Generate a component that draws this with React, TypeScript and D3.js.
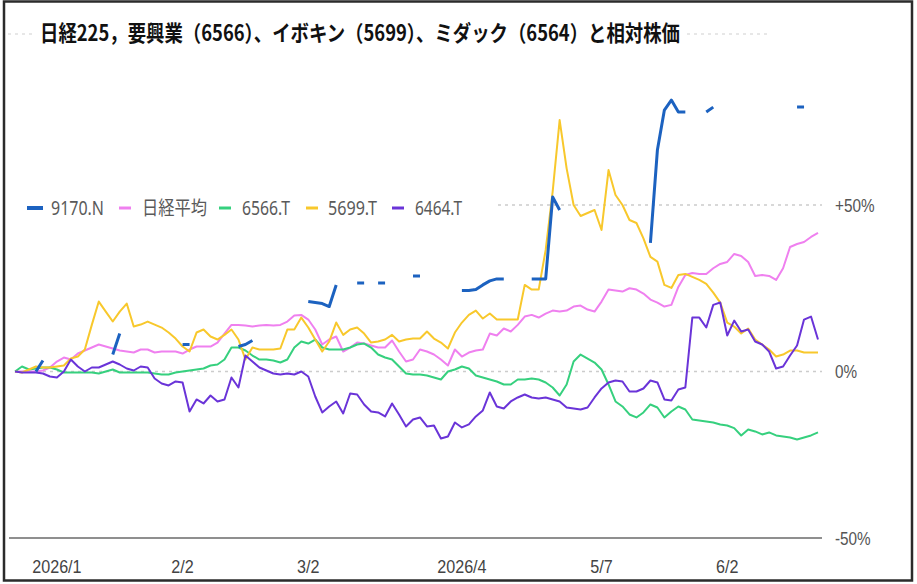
import React from "react";
import * as d3 from "d3";

const n = null;

// daily relative change (%) from the first day
const nikkei = [
  0, 0, 0, 0, 0.3, 1.2, 3, 4.2, 3.6, 5.4,
  6.3, 7.2, 8.1, 7.5, 6.9, 6.3, 6, 5.7, 6.6, 6.6,
  5.7, 6, 6, 6, 5.4, 6.6, 7.5, 7.5, 7.5, 8.7,
  11.4, 14, 14, 13.8, 13.5, 13.8, 14, 13.8, 14, 15,
  16.8, 17, 15.6, 12.6, 8.1, 9.6, 10.5, 6, 7.2, 8.7,
  8.4, 7.8, 7.2, 7.2, 9.3, 6, 3, 3.6, 6.6, 6,
  5.1, 3.6, 1.8, 6.6, 4.5, 5.7, 6.3, 6.6, 11.4, 10.8,
  12.9, 12, 14, 16.5, 17, 16.2, 17.4, 18.3, 18, 18.3,
  19.5, 19.8, 18.6, 18, 21, 24.6, 24.3, 24, 25, 24.6,
  23.4, 21.6, 20.7, 19.5, 20, 25.4, 29, 29.6, 29.3, 29.3,
  31, 32.3, 32.9, 35.3, 34.7, 32.9, 28.7, 29, 28.7, 27.5,
  31, 37.4, 38.3, 38.9, 40.4, 41.6,
];

const s6566 = [
  0, 1.5, 0.6, 0.9, 1.2, 1.2, 0.6, -0.3, -0.3, -0.3,
  -0.3, -0.3, -0.6, 0, 0.6, -0.3, -0.3, -0.3, -0.3, -0.3,
  -0.6, -0.9, -0.9, -0.3, 0, 0.3, 0.6, 0.9, 1.8, 2.1,
  3.6, 7.2, 7.2, 6.3, 4.8, 3.6, 3.6, 3.3, 2.7, 3.6,
  7.2, 9, 8.4, 9.6, 7.2, 6.6, 6.6, 6.6, 7.2, 8.1,
  8.4, 7.2, 5.1, 4.2, 3.6, 1.5, -0.6, -0.9, -0.9, -1.2,
  -1.8, -2.4, 0, 0.6, 1.5, 0.9, -1.2, -1.8, -2.4, -3,
  -3.9, -3.9, -2.4, -2.4, -2.1, -2.4, -3.3, -4.8, -7.2, -3.9,
  3, 5.1, 3.9, 2.7, 0.6, -3.9, -9, -10.5, -12.9, -13.8,
  -12.3, -9.9, -10.8, -13.8, -12, -10.5, -11.4, -14.4, -14.7, -15,
  -15.3, -15.9, -16.2, -17, -19.2, -17.4, -18, -18.9, -18.3, -19.2,
  -19.5, -19.8, -20.4, -19.8, -19.2, -18.3,
];

const s5699 = [
  0, -0.3, 0.6, 1.5, 1.2, 1.2, 1.5, 1.8, 3.9, 4.5,
  6.6, 14, 21, 18, 15, 18, 20.4, 13.5, 14.1, 15,
  14.1, 13.2, 11.7, 9.9, 7.5, 6, 11.7, 12.6, 10.5, 9.6,
  11, 12.6, 9.6, 3.6, 7.2, 6.6, 6.6, 6.6, 6.9, 12.6,
  12.6, 16.2, 13.2, 9.6, 6, 9, 14.7, 11, 12.6, 13.2,
  11.4, 8.7, 9, 9.6, 11, 9, 9.6, 9.9, 9.9, 12,
  9.9, 8.7, 6.9, 11.7, 14.7, 17, 18.3, 15.9, 17.4, 15.6,
  15.6, 15.6, 15.6, 26, 24.6, 24.6, 36.5, 54, 75.5, 61,
  50, 46.7, 47.6, 48.5, 42.5, 60.5, 53, 50, 45.5, 44.6,
  40, 34.4, 33, 26, 25.1, 29, 29.3, 28.4, 27.5, 26.3,
  23.7, 20.7, 14.7, 13.5, 11.4, 12.9, 9.6, 8.1, 6.6, 4.5,
  5.1, 6.3, 6.3, 5.7, 5.7, 5.7,
];

const s6464 = [
  0, -0.3, -0.3, -0.3, -0.6, -1.5, -1.8, 0, 3.6, 1.5,
  0, 1.2, 1.2, 2.1, 3, 2.1, 0.9, 0.3, 1.5, 1.2,
  -2.1, -3.6, -4.2, -3, -3.3, -12, -8.4, -9.6, -7.2, -9,
  -8.4, -1.8, -4.8, 4.8, 3, 1.2, 0.3, -0.6, -0.9, -0.6,
  -0.9, 0, -1.5, -7.5, -12.3, -10.5, -9, -12.6, -6.6, -6.9,
  -9.9, -12, -12.3, -13.5, -9.6, -12.9, -16.5, -14.4, -13.8, -16.5,
  -16.2, -20.1, -19.5, -15.3, -16.8, -15.9, -13.5, -11.7, -6.3, -10.5,
  -11.1, -9, -7.8, -6.9, -7.8, -8.1, -7.8, -8.4, -9, -10.8,
  -11.1, -11.4, -10.8, -7.8, -5.1, -3.3, -2.7, -3, -6, -6,
  -5.1, -2.7, -3.3, -8.4, -8.7, -5.4, -4.8, 16.2, 16.2, 13.2,
  20, 20.7, 10.8, 15.3, 12, 12.6, 9, 8.1, 6, 0.9,
  1.5, 4.8, 7.8, 15.6, 16.5, 9.6,
];

// 9170.N only has scattered prices
const s9170 = [
  n, n, n, 0, 3.3, n, n, n, n, n,
  n, n, n, n, 5.1, 11.4, n, n, n, n,
  n, n, n, n, 8.1, 8.1, n, n, n, n,
  n, n, 7.5, 8.1, 9.3, n, n, n, n, n,
  n, n, 21, 20.7, 20.4, 19.5, 26, n, n, 26.6,
  26.6, n, 26.6, 26.6, n, n, n, 28.7, 28.7, n,
  n, n, n, n, 24.3, 24.3, 24.6, 26, 27.2, 27.8,
  27.8, n, n, n, 27.8, 27.8, 27.8, 52.4, 48.5, n,
  n, n, n, n, n, n, n, n, n, n,
  n, 38.6, 66.5, 78.5, 81.5, 77.9, 77.9, n, n, 77.9,
  79.4, n, n, n, n, n, n, n, n, n,
  n, n, 79.4, 79.4, n, n,
];

const seriesNames = ["9170.N", "日経平均", "6566.T", "5699.T", "6464.T"];
const seriesColors = ["#1c62c0", "#ef80ef", "#36d07e", "#f8c82c", "#6a34d8"];
const seriesData = [s9170, nikkei, s6566, s5699, s6464];

const tickLabels = ["2026/1", "2/2", "3/2", "2026/4", "5/7", "6/2"];
const tickIndex = [6, 24, 42, 64, 84, 102];

const yTicks = [50, 0, -50];
const yTickLabels = ["+50%", "0%", "-50%"];

const W = 917;
const H = 584;

// legend layout (dash start, text start, text width)
const legendDash = [27, 119, 219, 306, 392];
const legendText = [51, 142, 242, 328, 415];
const legendTextW = [53, 65, 48, 49, 47];

export default function App() {
  const count = nikkei.length;
  const x = d3.scaleLinear().domain([0, count - 1]).range([15, 818]);
  const y = d3.scaleLinear().domain([-50, 50]).range([538, 205]);

  const line = d3
    .line<number | null>()
    .defined((d) => d != null)
    .x((d, i) => x(i))
    .y((d) => y(d as number));

  // draw order: blue last so it sits on top
  const order = [1, 2, 3, 4, 0];

  return (
    <svg
      width={W}
      height={H}
      style={{ position: "absolute", left: 0, top: 0, background: "#fff" }}
    >
      <rect x={0} y={0} width={W} height={H} fill="#fff" />
      <rect
        x={4}
        y={1.5}
        width={908}
        height={579}
        fill="none"
        stroke="#2b2b2b"
        strokeWidth={2.5}
      />

      {/* title */}
      <line x1={8} x2={770} y1={34} y2={34} stroke="#cfcfcf" strokeDasharray="3,4" />
      <rect x={36} y={16} width={648} height={34} fill="#fff" />
      <text
        x={40}
        y={41}
        fontSize={22}
        fontWeight="bold"
        fill="#111"
        fontFamily="'Noto Sans CJK JP', sans-serif"
        textLength={640}
        lengthAdjust="spacingAndGlyphs"
      >
        日経225，要興業（6566）、イボキン（5699）、ミダック（6564）と相対株価
      </text>

      {/* gridlines */}
      {yTicks.slice(0, 2).map((t) => (
        <line
          key={t}
          x1={15}
          x2={822}
          y1={y(t)}
          y2={y(t)}
          stroke="#cccccc"
          strokeWidth={1.3}
          strokeDasharray="3,4"
        />
      ))}
      <line x1={9} x2={822} y1={y(-50)} y2={y(-50)} stroke="#8f8f8f" strokeWidth={2.2} />

      {yTicks.map((t, i) => (
        <text
          key={t}
          transform={`translate(835,${y(t) + 6.5}) scale(0.85,1)`}
          fontSize={18}
          fill="#555"
          fontFamily="'Liberation Sans', Arial, sans-serif"
        >
          {yTickLabels[i]}
        </text>
      ))}

      {tickLabels.map((l, i) => (
        <text
          key={l}
          transform={`translate(${x(tickIndex[i])},573) scale(0.85,1)`}
          textAnchor="middle"
          fontSize={19}
          fill="#444"
          fontFamily="'Liberation Sans', Arial, sans-serif"
        >
          {l}
        </text>
      ))}

      {/* legend */}
      <rect x={12} y={195} width={482} height={26} fill="#fff" />
      {seriesNames.map((name, i) => (
        <g key={name}>
          <line
            x1={legendDash[i]}
            x2={legendDash[i] + (i === 0 ? 16 : 12)}
            y1={208}
            y2={208}
            stroke={seriesColors[i]}
            strokeWidth={i === 0 ? 4 : 3}
          />
          <text
            x={legendText[i]}
            y={215}
            fontSize={19}
            fill="#5a5a5a"
            fontFamily="'Noto Sans', 'Noto Sans CJK JP', sans-serif"
            textLength={legendTextW[i]}
            lengthAdjust="spacingAndGlyphs"
          >
            {name}
          </text>
        </g>
      ))}

      {/* series */}
      {order.map((k) => (
        <path
          key={seriesNames[k]}
          d={line(seriesData[k]) || ""}
          fill="none"
          stroke={seriesColors[k]}
          strokeWidth={k === 0 ? 3 : 2}
          strokeLinejoin="round"
        />
      ))}
    </svg>
  );
}
